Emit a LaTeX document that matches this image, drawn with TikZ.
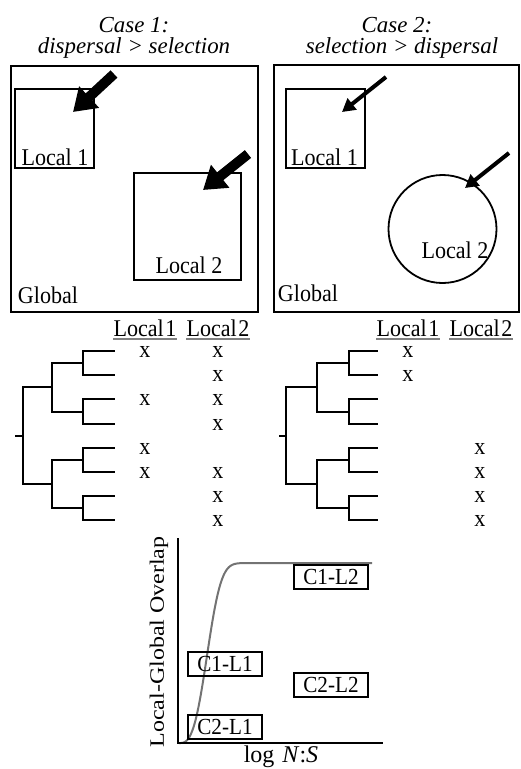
\documentclass[tikz,border=0pt]{standalone}
\usepackage{fontspec}
\setmainfont[FakeStretch=0.92]{Liberation Serif}
\newfontfamily\uprightserif{Liberation Serif}
\usetikzlibrary{arrows.meta}
\definecolor{curvegray}{gray}{0.45}
\definecolor{rulegray}{gray}{0.5}
\begin{document}
\begin{tikzpicture}[x=1pt,y=-1pt,
  txt/.style={font=\fontsize{24}{28}\selectfont, inner sep=0pt},
  ttl/.style={font=\uprightserif\fontsize{22.9}{26}\selectfont\itshape, inner sep=0pt, anchor=base},
  frame/.style={draw, line width=2.4pt, inner sep=0pt, minimum width=#1},
  bigarrow/.style={line width=10pt, -{Triangle[width=28pt,length=22pt]}},
  smallarrow/.style={line width=4pt, -{Triangle[width=14pt,length=13pt]}},
  branch/.style={line width=2pt},
  hdr/.style={txt, anchor=base},
  xmark/.style={txt},
  tag/.style={draw, line width=2pt, minimum width=74pt, minimum height=24pt,
              inner sep=0pt, font=\fontsize{23}{27}\selectfont},
]
\useasboundingbox (0,0) rectangle (520,769);

% ---------- titles ----------
\node[ttl] (t1a) at (134,32) {Case 1:};
\node[ttl] (t1b) at (134,53) {dispersal > selection};
\node[ttl] (t2a) at (397,32) {Case 2:};
\node[ttl] (t2b) at (402,53) {selection > dispersal};

% ---------- case 1 landscape ----------
\node[frame=247pt, minimum height=246pt] (glob1) at (134.5,189) {};
\node[frame=79pt, minimum height=79pt] (loc11) at (54.5,128.5) {};
\node[frame=107pt, minimum height=107pt] (loc12) at (187.5,226.5) {};
\node[txt] (lab11) at (55,157) {Local 1};
\node[txt] (lab12) at (189,265) {Local 2};
\node[txt] (glab1) at (48,295) {Global};
\coordinate (a11s) at (114,74);
\coordinate (a11e) at (73,112);
\coordinate (a12s) at (248,154);
\coordinate (a12e) at (203,190);
\draw[bigarrow] (a11s) -- (a11e);
\draw[bigarrow] (a12s) -- (a12e);

% ---------- case 2 landscape ----------
\node[frame=245pt, minimum height=247pt] (glob2) at (396.5,188.5) {};
\node[frame=79pt, minimum height=79pt] (loc21) at (325.5,128.5) {};
\node[draw, circle, line width=1.8pt, minimum size=108pt, inner sep=0pt] (loc22) at (442.5,229) {};
\node[txt] (lab21) at (324.5,157) {Local 1};
\node[txt] (lab22) at (455,250) {Local 2};
\node[txt] (glab2) at (308,293) {Global};
\coordinate (a21s) at (386,77);
\coordinate (a21e) at (342,112);
\coordinate (a22s) at (509,153);
\coordinate (a22e) at (465,188);
\draw[smallarrow] (a21s) -- (a21e);
\draw[smallarrow] (a22s) -- (a22e);

% ---------- case 1 tree ----------
\foreach \i in {0,...,7} {
  \coordinate (lt\i) at (115,{351+24.2*\i});
}
\coordinate (lc0) at (83,{351+24.2*0.5});
\coordinate (lc1) at (83,{351+24.2*2.5});
\coordinate (lc2) at (83,{351+24.2*4.5});
\coordinate (lc3) at (83,{351+24.2*6.5});
\coordinate (ls0) at (52,{351+24.2*1.5});
\coordinate (ls1) at (52,{351+24.2*5.5});
\coordinate (lr) at (23,{351+24.2*3.5});
\coordinate (lstub) at (15,{351+24.2*3.5});
\draw[branch] (lc0) |- (lt0) (lc0) |- (lt1)
              (lc1) |- (lt2) (lc1) |- (lt3)
              (lc2) |- (lt4) (lc2) |- (lt5)
              (lc3) |- (lt6) (lc3) |- (lt7)
              (ls0) |- (lc0) (ls0) |- (lc1)
              (ls1) |- (lc2) (ls1) |- (lc3)
              (lr) |- (ls0) (lr) |- (ls1)
              (lstub) -- (lr);

\node[hdr] (lh1) at (145,336) {Local\hspace{1.5pt}1};
\node[hdr] (lh2) at (218,336) {Local\hspace{1.5pt}2};
\draw[rulegray, line width=1.2pt] ([yshift=-3pt]lh1.base west) -- ([yshift=-3pt]lh1.base east);
\draw[rulegray, line width=1.2pt] ([yshift=-3pt]lh2.base west) -- ([yshift=-3pt]lh2.base east);
\foreach \r in {0,2,4,5} { \node[xmark] (lx1\r) at (145,{352+24.2*\r}) {x}; }
\foreach \r in {0,1,2,3,5,6,7} { \node[xmark] (lx2\r) at (218,{352+24.2*\r}) {x}; }

% ---------- case 2 tree ----------
\foreach \i in {0,...,7} {
  \coordinate (rt\i) at (378,{351+24.2*\i});
}
\coordinate (rc0) at (349,{351+24.2*0.5});
\coordinate (rc1) at (349,{351+24.2*2.5});
\coordinate (rc2) at (349,{351+24.2*4.5});
\coordinate (rc3) at (349,{351+24.2*6.5});
\coordinate (rs0) at (317,{351+24.2*1.5});
\coordinate (rs1) at (317,{351+24.2*5.5});
\coordinate (rr) at (286,{351+24.2*3.5});
\coordinate (rstub) at (279,{351+24.2*3.5});
\draw[branch] (rc0) |- (rt0) (rc0) |- (rt1)
              (rc1) |- (rt2) (rc1) |- (rt3)
              (rc2) |- (rt4) (rc2) |- (rt5)
              (rc3) |- (rt6) (rc3) |- (rt7)
              (rs0) |- (rc0) (rs0) |- (rc1)
              (rs1) |- (rc2) (rs1) |- (rc3)
              (rr) |- (rs0) (rr) |- (rs1)
              (rstub) -- (rr);

\node[hdr] (rh1) at (408,336) {Local\hspace{1.5pt}1};
\node[hdr] (rh2) at (481,336) {Local\hspace{1.5pt}2};
\draw[rulegray, line width=1.2pt] ([yshift=-3pt]rh1.base west) -- ([yshift=-3pt]rh1.base east);
\draw[rulegray, line width=1.2pt] ([yshift=-3pt]rh2.base west) -- ([yshift=-3pt]rh2.base east);
\foreach \r in {0,1} { \node[xmark] (rx1\r) at (408,{352+24.2*\r}) {x}; }
\foreach \r in {4,5,6,7} { \node[xmark] (rx2\r) at (480,{352+24.2*\r}) {x}; }

% ---------- overlap plot ----------
\coordinate (orig) at (178,743);
\coordinate (ytop) at (178,538);
\coordinate (xend) at (383,743);
\draw[curvegray, line width=2pt]
  plot[domain=179:372, samples=160, smooth]
  ({\x},{743-180*(1-exp(-min(((\x-179)/32.1)^3,14)))});
\draw[line width=2pt] (ytop) -- (orig) -- (xend);

\node[tag] (c1l2) at (331,577) {C1-L2};
\node[tag] (c1l1) at (225,664) {C1-L1};
\node[tag] (c2l2) at (331,685) {C2-L2};
\node[tag] (c2l1) at (225,727) {C2-L1};

\node[inner sep=0pt, rotate=90] (ylab) at (159,642)
  {\scalebox{1}[0.85]{\uprightserif\fontsize{24}{28}\selectfont Local-Global Overlap}};
\node[inner sep=0pt, anchor=base, font=\uprightserif\fontsize{24}{28}\selectfont] (xlab) at (281,762)
  {log\hspace{8pt}\textit{N}:\textit{S}};
\end{tikzpicture}
\end{document}
